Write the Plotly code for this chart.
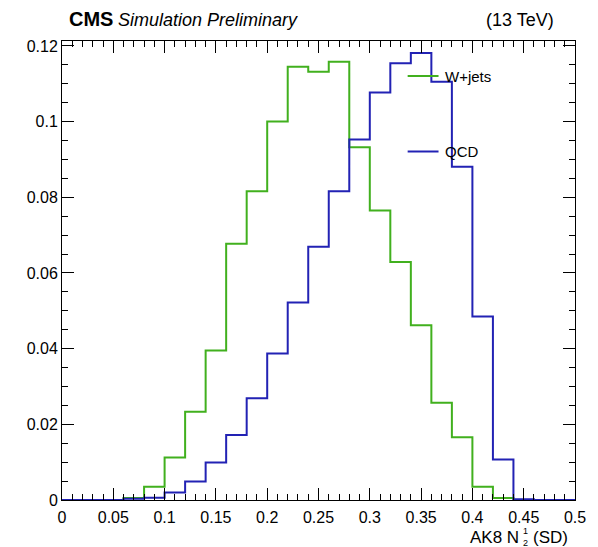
import plotly.graph_objects as go

# ---- data ----
bin_edges = [round(0.02 * i, 2) for i in range(26)]  # 0 .. 0.5, 25 bins
series_names = ["W+jets", "QCD"]
wjets = [0.0, 0.0, 0.0, 0.0005, 0.0035, 0.0112, 0.0233, 0.0395, 0.0677, 0.0816,
         0.1000, 0.1145, 0.1132, 0.1158, 0.0932, 0.0765, 0.0629, 0.0462, 0.0257,
         0.0166, 0.0035, 0.0005, 0.0, 0.0, 0.0]
qcd = [0.0, 0.0, 0.0, 0.0003, 0.0006, 0.0020, 0.0049, 0.0099, 0.0172, 0.0269,
       0.0387, 0.0522, 0.0669, 0.0816, 0.0953, 0.1077, 0.1154, 0.1181, 0.1105,
       0.0881, 0.0485, 0.0107, 0.0002, 0.0, 0.0]
x_tickvals = [0, 0.05, 0.1, 0.15, 0.2, 0.25, 0.3, 0.35, 0.4, 0.45, 0.5]
x_ticktext = ["0", "0.05", "0.1", "0.15", "0.2", "0.25", "0.3", "0.35", "0.4", "0.45", "0.5"]
y_tickvals = [0, 0.02, 0.04, 0.06, 0.08, 0.1, 0.12]
y_ticktext = ["0", "0.02", "0.04", "0.06", "0.08", "0.1", "0.12"]

colors = ["#41b01e", "#2222b4"]

FONT = "Liberation Sans, Arial, Helvetica, sans-serif"
W, H = 598, 547
L, R, T, B = 62, 577, 41, 500


def px(xp):
    return (xp - L) / (R - L)


def py(yp):
    return (B - yp) / (B - T)


fig = go.Figure()
for name, vals, col in zip(series_names, [wjets, qcd], colors):
    fig.add_trace(go.Scatter(
        x=bin_edges,
        y=vals + [vals[-1]],
        mode="lines",
        line=dict(shape="hv", color=col, width=2),
        name=name,
        showlegend=False,
    ))

axis_common = dict(
    showgrid=False, zeroline=False, showline=True, linecolor="black", linewidth=1,
    mirror="ticks", ticks="inside", ticklen=12, tickcolor="black", tickwidth=1,
    tickfont=dict(family=FONT, size=16, color="black"),
)

fig.update_xaxes(range=[0, 0.5], tickmode="array", tickvals=x_tickvals, ticktext=x_ticktext,
                 ticklabelstandoff=3,
                 minor=dict(dtick=0.01, tick0=0, ticks="inside", ticklen=6, tickcolor="black"),
                 **axis_common)
fig.update_yaxes(range=[0, 0.1213], tickmode="array", tickvals=y_tickvals, ticktext=y_ticktext,
                 minor=dict(dtick=0.005, tick0=0, ticks="inside", ticklen=6, tickcolor="black"),
                 **axis_common)

ann = []
ann.append(dict(x=px(67), y=py(19), xref="paper", yref="paper", xanchor="left", yanchor="middle",
                text="<b>CMS</b>", showarrow=False, font=dict(family=FONT, size=20, color="black")))
ann.append(dict(x=px(116), y=py(20), xref="paper", yref="paper", xanchor="left", yanchor="middle",
                text="<i>Simulation Preliminary</i>", showarrow=False,
                font=dict(family=FONT, size=18, color="black")))
ann.append(dict(x=px(558), y=py(20), xref="paper", yref="paper", xanchor="right", yanchor="middle",
                text="(13 TeV)", showarrow=False, font=dict(family=FONT, size=18, color="black")))
# x-axis title  AK8 N^1_2 (SD)
ann.append(dict(x=px(523), y=py(537), xref="paper", yref="paper", xanchor="right", yanchor="middle",
                text="AK8 N", showarrow=False, font=dict(family=FONT, size=17, color="black")))
ann.append(dict(x=px(523), y=py(536.5), xref="paper", yref="paper", xanchor="left", yanchor="middle",
                text="1<br>2", align="left", showarrow=False,
                font=dict(family=FONT, size=9, color="black")))
ann.append(dict(x=px(533), y=py(537), xref="paper", yref="paper", xanchor="left", yanchor="middle",
                text="(SD)", showarrow=False, font=dict(family=FONT, size=17, color="black")))

shapes = []
for name, col, ly in zip(series_names, colors, [76, 151.5]):
    shapes.append(dict(type="line", xref="paper", yref="paper", x0=px(409), x1=px(440),
                       y0=py(ly), y1=py(ly), line=dict(color=col, width=2)))
    ann.append(dict(x=px(444), y=py(ly), xref="paper", yref="paper", xanchor="left", yanchor="middle",
                    text=name, showarrow=False, font=dict(family=FONT, size=15, color="black")))

fig.update_layout(
    width=W, height=H,
    margin=dict(l=L, r=W - R, t=T, b=H - B, pad=0),
    paper_bgcolor="white", plot_bgcolor="white",
    annotations=ann, shapes=shapes, showlegend=False,
)

fig.write_html("out.html")
